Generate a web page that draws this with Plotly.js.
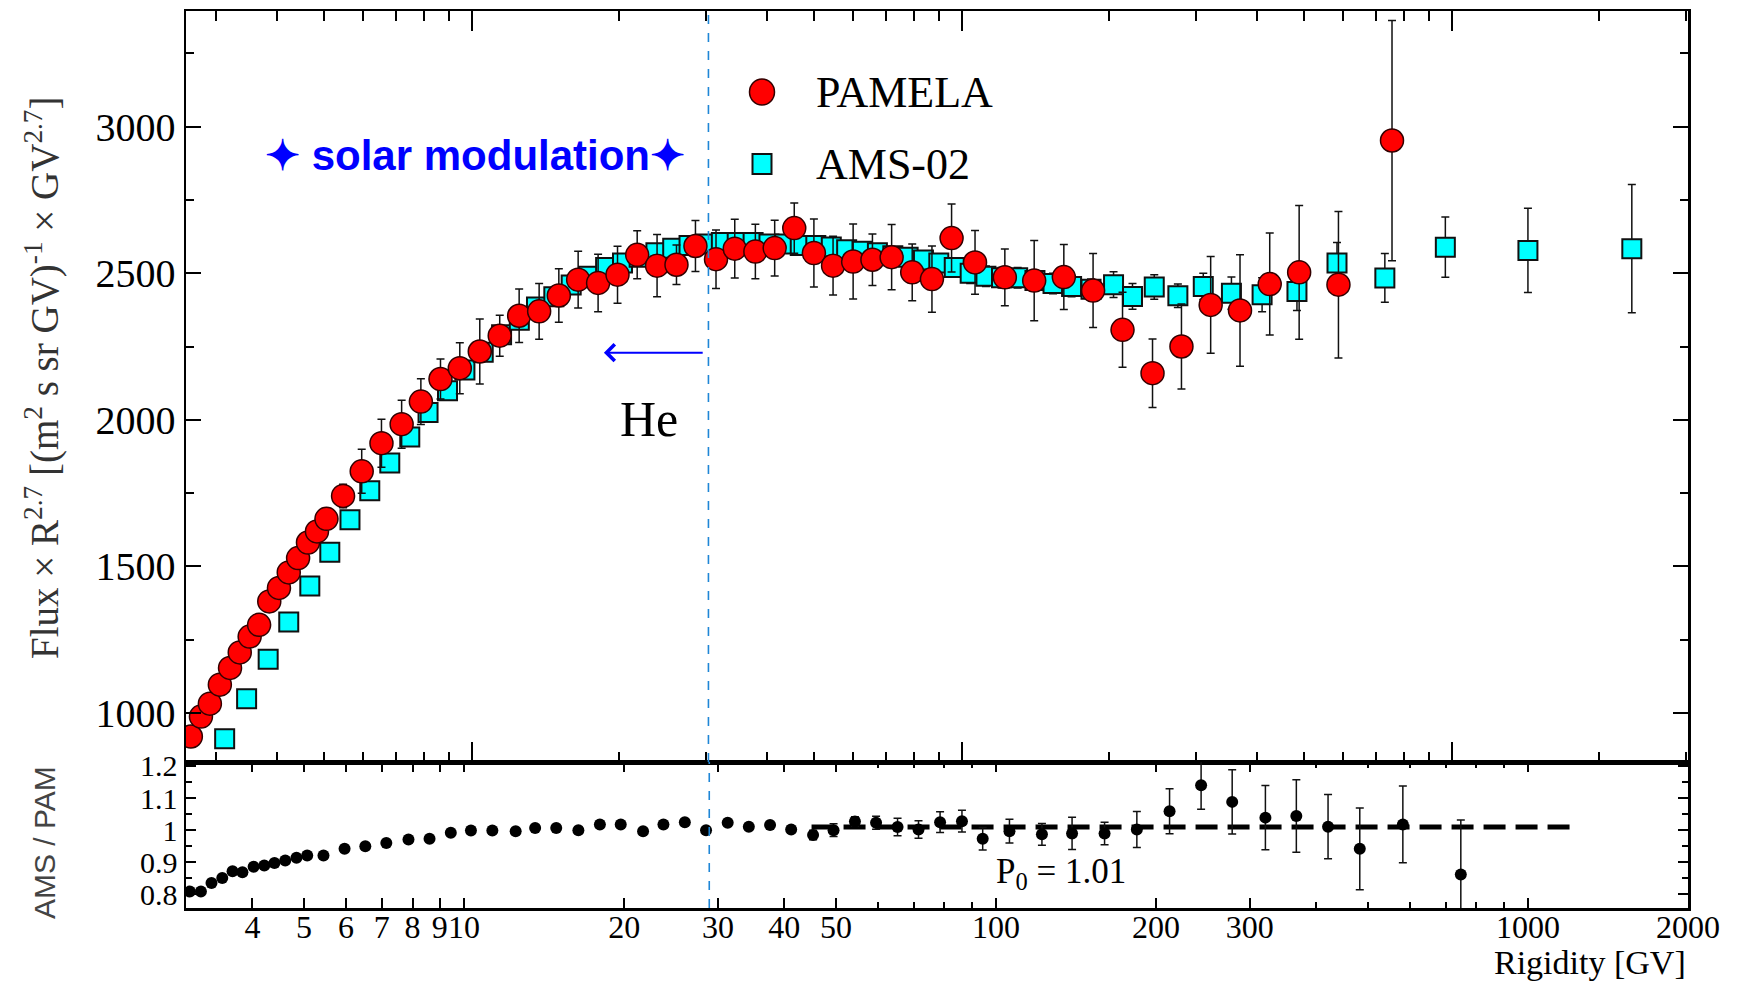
<!DOCTYPE html>
<html>
<head>
<meta charset="utf-8">
<script src="https://cdn.plot.ly/plotly-3.0.1.min.js"></script>
<style>html,body{margin:0;padding:0;background:#fff;}#chart{width:1737px;height:984px;}</style>
</head>
<body>
<div id="chart"></div>
<script>
// ---------------- data ----------------
const pamelaR = [2.67, 2.80, 2.92, 3.06, 3.21, 3.36, 3.52, 3.68, 3.86, 4.04,
  4.23, 4.42, 4.63, 4.83, 5.05, 5.46, 5.96, 6.54, 7.19, 7.87,
  8.63, 9.45, 10.38, 11.40, 12.49, 13.72, 15.05, 16.48, 18.10, 19.83,
  21.75, 23.88, 26.16, 28.6, 31.5, 34.4, 37.9, 41.5, 45.5, 49.9,
  54.6, 60.0, 65.7, 71.9, 79.2, 86.9, 95.3, 106.4, 122.4, 140.5,
  161.5, 185.3, 212.8, 245, 280.7, 322, 369.6, 425, 488, 587, 755];
const pamelaFlux = [919, 987, 1031, 1096, 1153, 1206, 1260, 1300, 1380, 1426,
  1479, 1528, 1581, 1619, 1662, 1740, 1824, 1920, 1985, 2062,
  2139, 2176, 2233, 2287, 2355, 2370, 2424, 2478, 2467, 2495,
  2563, 2526, 2529, 2593, 2548, 2584, 2574, 2586, 2654, 2569,
  2526, 2540, 2546, 2555, 2503, 2480, 2620, 2537, 2486, 2475,
  2487, 2441, 2307, 2159, 2250, 2392, 2373, 2463, 2503, 2461, 2953];
const pamelaErr = [15, 15, 15, 15, 15, 15, 15, 15, 15, 15,
  20, 20, 20, 20, 20, 40, 75, 82, 82, 78,
  68, 87, 111, 70, 91, 95, 91, 97, 98, 97,
  82, 106, 67, 87, 100, 100, 93, 95, 86, 116,
  100, 128, 88, 111, 97, 113, 116, 109, 97, 137,
  111, 126, 128, 117, 145, 165, 190, 174, 228, 250, 410];

const amsR = [3.13, 3.47, 3.84, 4.23, 4.67, 5.13, 5.64, 6.19, 6.80, 7.47,
  8.14, 8.92, 9.68, 10.55, 11.5, 12.5, 13.55, 14.7, 15.95, 17.3,
  18.75, 20.3, 21.95, 23.75, 25.7, 27.75, 29.95, 32.3, 34.8, 37.5,
  40.4, 43.5, 46.8, 50.35, 54.15, 58.2, 62.55, 67.25, 72.3, 77.7,
  83.5, 89.75, 96.5, 104, 112, 120.5, 130, 141, 153.5, 167.5,
  183.5, 204, 223, 247, 276, 311, 355, 410, 483, 583,
  730, 970, 1430, 2330];
const amsFlux = [911, 1048, 1183, 1310, 1433, 1548, 1659, 1758, 1852, 1941,
  2025, 2099, 2170, 2230, 2290, 2340, 2385, 2420, 2460, 2490,
  2520, 2535, 2555, 2570, 2585, 2595, 2600, 2605, 2605, 2605,
  2600, 2600, 2595, 2595, 2590, 2580, 2575, 2570, 2560, 2555,
  2545, 2535, 2520, 2500, 2490, 2485, 2485, 2475, 2465, 2455,
  2445, 2461, 2421, 2453, 2423, 2455, 2432, 2427, 2438, 2535,
  2484, 2589, 2578, 2584];
const amsErr = [10, 10, 10, 10, 10, 10, 10, 10, 10, 10,
  10, 10, 20, 20, 20, 20, 20, 20, 20, 20,
  20, 30, 30, 30, 30, 30, 30, 30, 30, 30,
  30, 30, 30, 30, 30, 30, 30, 30, 30, 30,
  30, 30, 30, 35, 35, 35, 35, 35, 35, 35,
  35, 44, 44, 42, 40, 45, 55, 58, 65, 70,
  83, 103, 144, 219];

const ratioR = [3.05, 3.20, 3.35, 3.51, 3.67, 3.83, 4.02, 4.21, 4.40, 4.61,
  4.84, 5.07, 5.44, 5.96, 6.52, 7.14, 7.86, 8.61, 9.44, 10.3,
  11.3, 12.5, 13.6, 14.9, 16.4, 18.0, 19.7, 21.7, 23.7, 26.0,
  28.5, 31.3, 34.3, 37.6, 41.2, 45.3, 49.5, 54.3, 59.5, 65.3,
  71.5, 78.5, 86.3, 94.4, 106, 122, 139, 160, 184, 212,
  243, 278, 321, 367, 421, 483, 582, 748];
const ratioVal = [0.809, 0.809, 0.836, 0.851, 0.872, 0.869, 0.886, 0.890, 0.898, 0.906,
  0.914, 0.921, 0.921, 0.942, 0.950, 0.960, 0.971, 0.973, 0.992, 0.999,
  0.999, 0.997, 1.007, 1.007, 1.000, 1.018, 1.018, 0.997, 1.018, 1.025,
  1.000, 1.023, 1.011, 1.016, 1.002, 0.985, 1.000, 1.027, 1.023, 1.010,
  1.002, 1.025, 1.028, 0.973, 0.997, 0.987, 0.990, 0.990, 1.002, 1.059,
  1.140, 1.088, 1.039, 1.044, 1.011, 0.942, 1.018, 0.862];
const ratioErr = [0.004, 0.004, 0.004, 0.004, 0.004, 0.004, 0.004, 0.004, 0.004, 0.004,
  0.004, 0.004, 0.004, 0.004, 0.004, 0.004, 0.004, 0.004, 0.004, 0.004,
  0.004, 0.004, 0.004, 0.004, 0.004, 0.004, 0.004, 0.004, 0.004, 0.004,
  0.004, 0.004, 0.004, 0.004, 0.004, 0.015, 0.02, 0.015, 0.02, 0.027,
  0.027, 0.032, 0.034, 0.035, 0.037, 0.034, 0.05, 0.035, 0.056, 0.07,
  0.075, 0.1, 0.1, 0.113, 0.1, 0.127, 0.119, 0.17];

const fitR = [45, 1200];
const fitP0 = 1.01;
const boundaryTopR = 30.4;     // dashed blue line, upper panel scale
const boundaryBottomR = 28.9;  // same line, lower panel scale
const arrowFromR = 29.8, arrowToR = 18.6, arrowFlux = 2229;

const topYTicks = [1000, 1500, 2000, 2500, 3000];
const topYMinor = [1250, 1750, 2250, 2750, 3250];
const topXMajor = [10, 100, 1000];
const topXMinor = [3, 4, 5, 6, 7, 8, 9, 20, 30, 40, 50, 60, 70, 80, 90, 200, 300, 400, 500, 600, 700, 800, 900, 2000, 3000];
const bottomXTicks = [4, 5, 6, 7, 8, 9, 10, 20, 30, 40, 50, 100, 200, 300, 1000, 2000];
const bottomXTickText = ['4', '5', '6', '7', '8', '9', '10', '20', '30', '40', '50', '100', '200', '300', '1000', '2000'];
const bottomXMinor = [60, 70, 80, 90, 400, 500, 600, 700, 800, 900];
const ratioYTicks = [0.8, 0.9, 1, 1.1, 1.2];
const ratioYTickText = ['0.8', '0.9', '1', '1.1', '1.2'];
const ratioYMinor = [0.75, 0.85, 0.95, 1.05, 1.15];

// ---------------- traces ----------------
const SERIF = 'Liberation Serif';
const SANS = 'Liberation Sans';

const traces = [
  {
    type: 'scatter', mode: 'markers', name: 'AMS-02',
    x: amsR, y: amsFlux, xaxis: 'x', yaxis: 'y',
    error_y: {type: 'data', array: amsErr, visible: true, color: '#111', thickness: 1.5, width: 4},
    marker: {symbol: 'square', size: 19, color: '#00ffff', line: {color: '#111', width: 2}},
    showlegend: false, hoverinfo: 'x+y'
  },
  {
    type: 'scatter', mode: 'markers', name: 'PAMELA',
    x: pamelaR, y: pamelaFlux, xaxis: 'x', yaxis: 'y',
    error_y: {type: 'data', array: pamelaErr, visible: true, color: '#111', thickness: 1.5, width: 4},
    marker: {symbol: 'circle', size: 23, color: '#ff0000', line: {color: '#300', width: 1.5}},
    showlegend: false, hoverinfo: 'x+y'
  },
  {
    type: 'scatter', mode: 'lines', name: 'P0 fit',
    x: fitR, y: [fitP0, fitP0], xaxis: 'x2', yaxis: 'y2',
    line: {color: '#000', width: 5, dash: '22px,10px'},
    showlegend: false, hoverinfo: 'skip'
  },
  {
    type: 'scatter', mode: 'markers', name: 'AMS / PAM',
    x: ratioR, y: ratioVal, xaxis: 'x2', yaxis: 'y2',
    error_y: {type: 'data', array: ratioErr, visible: true, color: '#111', thickness: 1.5, width: 4},
    marker: {symbol: 'circle', size: 12, color: '#000'},
    showlegend: false, hoverinfo: 'x+y'
  }
];

// ---------------- layout ----------------
const L = 186, R = 49, T = 11, B = 76, W = 1737, H = 984;
const plotW = W - L - R, plotH = H - T - B;
const splitFrac = (908 - 762) / plotH;

const axisCommon = {
  showline: true, linecolor: '#000', linewidth: 2.5, mirror: 'allticks',
  ticks: 'inside', tickcolor: '#000', tickwidth: 2, showgrid: false, zeroline: false
};

const layout = {
  width: W, height: H,
  margin: {l: L, r: R, t: T, b: B, pad: 0},
  paper_bgcolor: '#fff', plot_bgcolor: '#fff',
  font: {family: SERIF, color: '#000', size: 36},
  showlegend: false,
  xaxis: Object.assign({}, axisCommon, {
    type: 'log', domain: [0, 1], anchor: 'y',
    range: [Math.log10(2.61), Math.log10(3034)],
    tickmode: 'array', tickvals: topXMajor, showticklabels: false, ticklen: 20,
    minor: {tickmode: 'array', tickvals: topXMinor, ticks: 'inside', ticklen: 10, tickcolor: '#000', tickwidth: 2}
  }),
  yaxis: Object.assign({}, axisCommon, {
    domain: [splitFrac, 1], anchor: 'x',
    range: [832, 3395],
    tickmode: 'array', tickvals: topYTicks, ticklen: 15,
    tickfont: {family: SERIF, size: 40, color: '#000'},
    minor: {tickmode: 'array', tickvals: topYMinor, ticks: 'inside', ticklen: 8, tickcolor: '#000', tickwidth: 2}
  }),
  xaxis2: Object.assign({}, axisCommon, {
    type: 'log', domain: [0, 1], anchor: 'y2',
    range: [Math.log10(3), Math.log10(2000)],
    tickmode: 'array', tickvals: bottomXTicks, ticktext: bottomXTickText, ticklen: 10,
    tickangle: 0, ticklabelstandoff: -11,
    tickfont: {family: SERIF, size: 32, color: '#000'},
    minor: {tickmode: 'array', tickvals: bottomXMinor, ticks: 'inside', ticklen: 6, tickcolor: '#000', tickwidth: 2}
  }),
  yaxis2: Object.assign({}, axisCommon, {
    domain: [0, splitFrac], anchor: 'x2',
    range: [0.758, 1.212],
    tickmode: 'array', tickvals: ratioYTicks, ticktext: ratioYTickText, ticklen: 10,
    tickfont: {family: SERIF, size: 30, color: '#000'},
    minor: {tickmode: 'array', tickvals: ratioYMinor, ticks: 'inside', ticklen: 6, tickcolor: '#000', tickwidth: 2}
  }),
  shapes: [
    {type: 'line', xref: 'x', yref: 'y domain', x0: boundaryTopR, x1: boundaryTopR, y0: 0, y1: 1,
     line: {color: '#1f86d6', width: 1.6, dash: 'dash'}},
    {type: 'line', xref: 'x2', yref: 'y2 domain', x0: boundaryBottomR, x1: boundaryBottomR, y0: 0, y1: 1,
     line: {color: '#1f86d6', width: 1.6, dash: 'dash'}},
    // legend symbols
    {type: 'circle', xref: 'paper', yref: 'paper', xsizemode: 'pixel', ysizemode: 'pixel',
     xanchor: (762 - L) / plotW, yanchor: (908 - 92) / plotH, x0: -12.5, x1: 12.5, y0: -13, y1: 13,
     fillcolor: '#ff0000', line: {color: '#300', width: 1.5}},
    {type: 'rect', xref: 'paper', yref: 'paper', xsizemode: 'pixel', ysizemode: 'pixel',
     xanchor: (762 - L) / plotW, yanchor: (908 - 164) / plotH, x0: -9.5, x1: 9.5, y0: -10, y1: 10,
     fillcolor: '#00ffff', line: {color: '#111', width: 2}}
  ],
  annotations: [
    {xref: 'paper', yref: 'paper', x: (814 - L) / plotW, y: (908 - 92) / plotH, xanchor: 'left', yanchor: 'middle',
     text: 'PAMELA', showarrow: false, font: {family: SERIF, size: 44, color: '#000'}},
    {xref: 'paper', yref: 'paper', x: (814 - L) / plotW, y: (908 - 164) / plotH, xanchor: 'left', yanchor: 'middle',
     text: 'AMS-02', showarrow: false, font: {family: SERIF, size: 44, color: '#000'}},
    {xref: 'paper', yref: 'paper', x: (475 - L) / plotW, y: (908 - 156) / plotH, xanchor: 'center', yanchor: 'middle',
     text: '<b>\u2726 solar modulation\u2726</b>', showarrow: false, font: {family: SANS, size: 42, color: '#0000ff'}},
    {xref: 'paper', yref: 'paper', x: (649 - L) / plotW, y: (908 - 419) / plotH, xanchor: 'center', yanchor: 'middle',
     text: 'He', showarrow: false, font: {family: SERIF, size: 50, color: '#000'}},
    {xref: 'x', yref: 'y', x: Math.log10(arrowToR), y: arrowFlux, axref: 'x', ayref: 'y',
     ax: Math.log10(arrowFromR), ay: arrowFlux, text: '', showarrow: true,
     arrowhead: 4, arrowsize: 1.6, arrowwidth: 2, arrowcolor: '#0000ff'},
    {xref: 'paper', yref: 'paper', x: (1061 - L) / plotW, y: (908 - 873) / plotH, xanchor: 'center', yanchor: 'middle',
     text: 'P<sub>0</sub> = 1.01', showarrow: false, font: {family: SERIF, size: 35, color: '#000'}},
    {xref: 'paper', yref: 'paper', x: 1, y: (908 - 962) / plotH, xanchor: 'right', yanchor: 'middle',
     text: 'Rigidity [GV]', showarrow: false, font: {family: SERIF, size: 34, color: '#000'}},
    {xref: 'paper', yref: 'paper', x: (42 - L) / plotW, y: (908 - 378) / plotH, xanchor: 'center', yanchor: 'middle',
     textangle: -90, showarrow: false,
     text: 'Flux \u00d7 R<sup>2.7</sup> [(m<sup>2</sup> s sr GV)<sup>-1</sup> \u00d7 GV<sup>2.7</sup>]',
     font: {family: SERIF, size: 39, color: '#333'}},
    {xref: 'paper', yref: 'paper', x: (44 - L) / plotW, y: (908 - 843) / plotH, xanchor: 'center', yanchor: 'middle',
     textangle: -90, showarrow: false, text: 'AMS / PAM',
     font: {family: SANS, size: 30, color: '#444'}}
  ]
};

Plotly.newPlot('chart', traces, layout, {staticPlot: true, displayModeBar: false});
</script>
</body>
</html>
